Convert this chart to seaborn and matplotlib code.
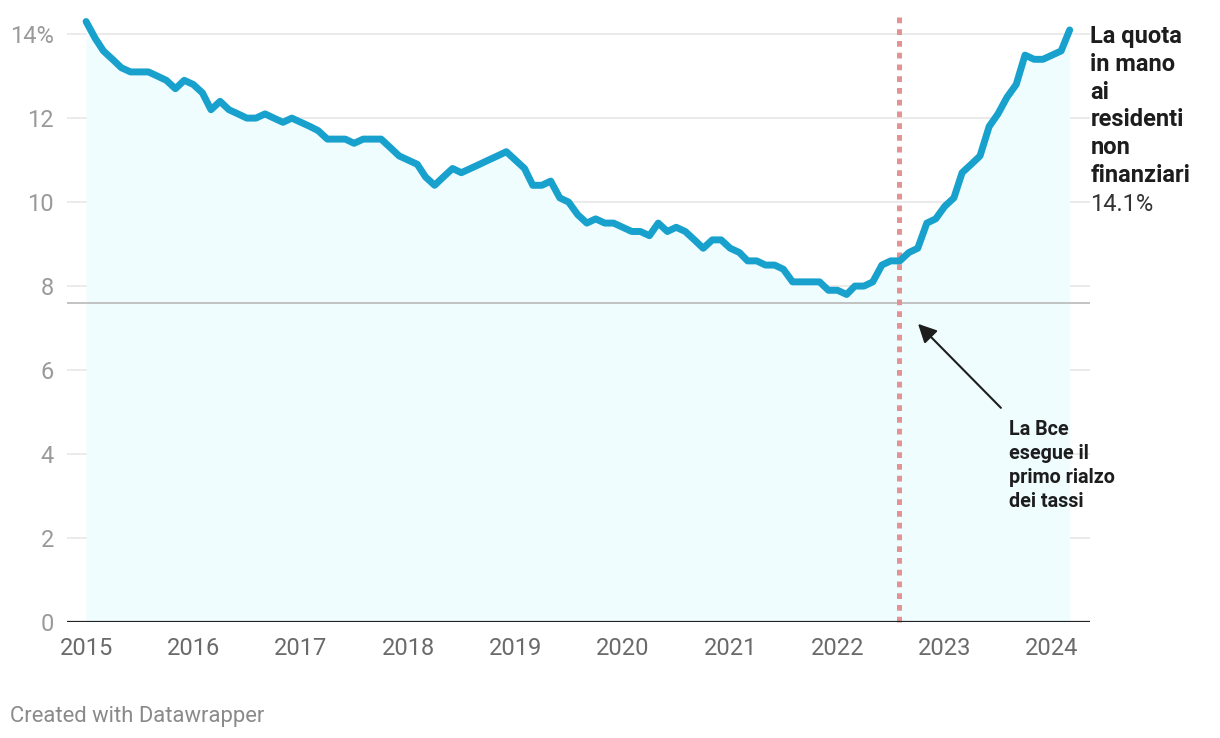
import pandas as pd
import matplotlib.pyplot as plt
import matplotlib.dates as mdates
import seaborn as sns

# quota (%) dei titoli di Stato in mano ai residenti non finanziari, mensile
valori_2015 = [14.3, 13.9, 13.6, 13.4, 13.2, 13.1, 13.1, 13.1, 13.0, 12.9, 12.7, 12.9]
valori_2016 = [12.8, 12.6, 12.2, 12.4, 12.2, 12.1, 12.0, 12.0, 12.1, 12.0, 11.9, 12.0]
valori_2017 = [11.9, 11.8, 11.7, 11.5, 11.5, 11.5, 11.4, 11.5, 11.5, 11.5, 11.3, 11.1]
valori_2018 = [11.0, 10.9, 10.6, 10.4, 10.6, 10.8, 10.7, 10.8, 10.9, 11.0, 11.1, 11.2]
valori_2019 = [11.0, 10.8, 10.4, 10.4, 10.5, 10.1, 10.0, 9.7, 9.5, 9.6, 9.5, 9.5]
valori_2020 = [9.4, 9.3, 9.3, 9.2, 9.5, 9.3, 9.4, 9.3, 9.1, 8.9, 9.1, 9.1]
valori_2021 = [8.9, 8.8, 8.6, 8.6, 8.5, 8.5, 8.4, 8.1, 8.1, 8.1, 8.1, 7.9]
valori_2022 = [7.9, 7.8, 8.0, 8.0, 8.1, 8.5, 8.6, 8.6, 8.8, 8.9, 9.5, 9.6]
valori_2023 = [9.9, 10.1, 10.7, 10.9, 11.1, 11.8, 12.1, 12.5, 12.8, 13.5, 13.4, 13.4]
valori_2024 = [13.5, 13.6, 14.1]

valori = (valori_2015 + valori_2016 + valori_2017 + valori_2018 + valori_2019
          + valori_2020 + valori_2021 + valori_2022 + valori_2023 + valori_2024)
date = pd.date_range("2015-01-01", periods=len(valori), freq="MS")
df = pd.DataFrame({"data": date, "quota": valori})

anni = list(range(2015, 2025))
y_ticks = [0, 2, 4, 6, 8, 10, 12, 14]
y_labels = ["0", "2", "4", "6", "8", "10", "12", "14%"]
linea_rif = 7.6
rialzo_bce = pd.Timestamp("2022-07-28")

sns.set_style("white")
plt.rcParams["font.family"] = ["Roboto", "DejaVu Sans"]

fig = plt.figure(figsize=(12.2, 7.38), dpi=100)
ax = fig.add_axes([0.0549, 0.1572, 0.8385, 0.825])

# area sotto la curva
ax.fill_between(df["data"], 0, df["quota"], color="#effdff", lw=0, zorder=1)
sns.lineplot(data=df, x="data", y="quota", ax=ax, color="#18a1cd", lw=5,
             solid_capstyle="round", solid_joinstyle="round", zorder=4, clip_on=False)

# griglia
for t in y_ticks[1:]:
    ax.axhline(t, color="#e6e6e6", lw=1.1, zorder=0)
ax.axhline(0, color="#222222", lw=1.6, zorder=5)
ax.axhline(linea_rif, color="#b9b9b9", lw=1.2, zorder=2)

# rialzo tassi Bce
ax.plot([rialzo_bce, rialzo_bce], [0, 14.45], color="#e39393", lw=3.6,
        dashes=(1.15, 1.2), zorder=3, clip_on=False)

ax.set_xlim(pd.Timestamp("2014-10-28"), pd.Timestamp("2024-05-09"))
ax.set_ylim(0, 14.5)
ax.set_xticks([pd.Timestamp(f"{a}-01-01") for a in anni])
ax.xaxis.set_major_formatter(mdates.DateFormatter("%Y"))
ax.set_yticks(y_ticks)
ax.set_yticklabels(y_labels)
ax.tick_params(axis="y", length=0, pad=9.5, labelsize=17, labelcolor="#9a9a9a")
ax.tick_params(axis="x", length=0, pad=11, labelsize=17, labelcolor="#6a6a6a")
ax.set_xlabel("")
ax.set_ylabel("")
sns.despine(ax=ax, left=True, bottom=True)

# etichetta finale
tr = ax.get_yaxis_transform()
ax.text(1.0005, 14.22, "La quota\nin mano\nai\nresidenti\nnon\nfinanziari",
        transform=tr, ha="left", va="top", fontsize=17, fontweight="bold",
        color="#1d1d1d", linespacing=1.27)
ax.text(1.0005, 10.22, "14.1%", transform=tr, ha="left", va="top",
        fontsize=17, color="#333333")

# annotazione
ax.annotate("", xy=(pd.Timestamp("2022-10-02"), 7.1),
            xytext=(pd.Timestamp("2023-07-11"), 5.1),
            arrowprops=dict(arrowstyle="-|>", color="#1d1d1d", lw=1.5,
                            mutation_scale=28, shrinkA=0, shrinkB=0), zorder=6)
ax.text(pd.Timestamp("2023-08-07"), 4.8, "La Bce\nesegue il\nprimo rialzo\ndei tassi",
        ha="left", va="top", fontsize=14.2, fontweight="bold", color="#1d1d1d",
        linespacing=1.33)

fig.text(10 / 1220, 1 - 722 / 738, "Created with Datawrapper", ha="left", va="baseline",
         fontsize=15.8, color="#8a8a8a")

fig.savefig("out.png", dpi=100)
